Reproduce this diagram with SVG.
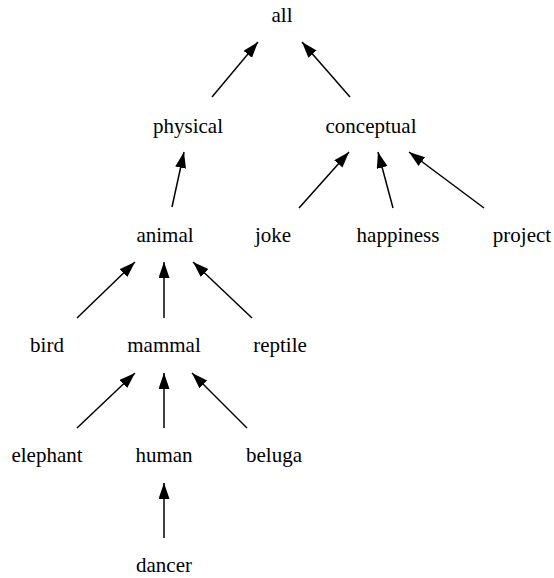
<svg xmlns="http://www.w3.org/2000/svg" width="554" height="578" viewBox="0 0 554 578">
<style>
text{font-size:21px;fill:#000;text-anchor:middle}
.e line{stroke:#000;stroke-width:1.5;marker-end:url(#ah)}
</style>
<defs>
<marker id="ah" markerUnits="userSpaceOnUse" markerWidth="17" markerHeight="12" refX="16" refY="5.5" orient="auto">
<path d="M0,0 L16,5.5 L0,11 z" fill="#000"/>
</marker>
</defs>
<rect width="554" height="578" fill="#fff"/>
<g class="e" id="edges">
<line x1="212" y1="97" x2="258" y2="42"/>
<line x1="350" y1="97" x2="302" y2="42"/>
<line x1="172" y1="207" x2="184" y2="152"/>
<line x1="299" y1="208" x2="349" y2="152"/>
<line x1="393" y1="208" x2="378" y2="152"/>
<line x1="484" y1="208" x2="409" y2="152"/>
<line x1="77" y1="318" x2="135" y2="262"/>
<line x1="164" y1="318" x2="164" y2="262"/>
<line x1="252" y1="318" x2="193" y2="262"/>
<line x1="77" y1="428" x2="135" y2="373"/>
<line x1="164" y1="428" x2="164" y2="373"/>
<line x1="247" y1="428" x2="192" y2="373"/>
<line x1="164" y1="538" x2="164" y2="483"/>
</g>
<g font-family="Liberation Serif, Times New Roman, serif">
<g id="all"><text x="282" y="22">all</text></g>
<g id="physical"><text x="188" y="133">physical</text></g>
<g id="conceptual"><text x="371" y="133">conceptual</text></g>
<g id="animal"><text x="165" y="242">animal</text></g>
<g id="joke"><text x="273" y="242">joke</text></g>
<g id="happiness"><text x="398" y="242">happiness</text></g>
<g id="project"><text x="522" y="242">project</text></g>
<g id="bird"><text x="47" y="352">bird</text></g>
<g id="mammal"><text x="164" y="352">mammal</text></g>
<g id="reptile"><text x="280" y="352">reptile</text></g>
<g id="elephant"><text x="47" y="462">elephant</text></g>
<g id="human"><text x="164" y="462">human</text></g>
<g id="beluga"><text x="274" y="462">beluga</text></g>
<g id="dancer"><text x="164" y="572">dancer</text></g>
</g>
</svg>
